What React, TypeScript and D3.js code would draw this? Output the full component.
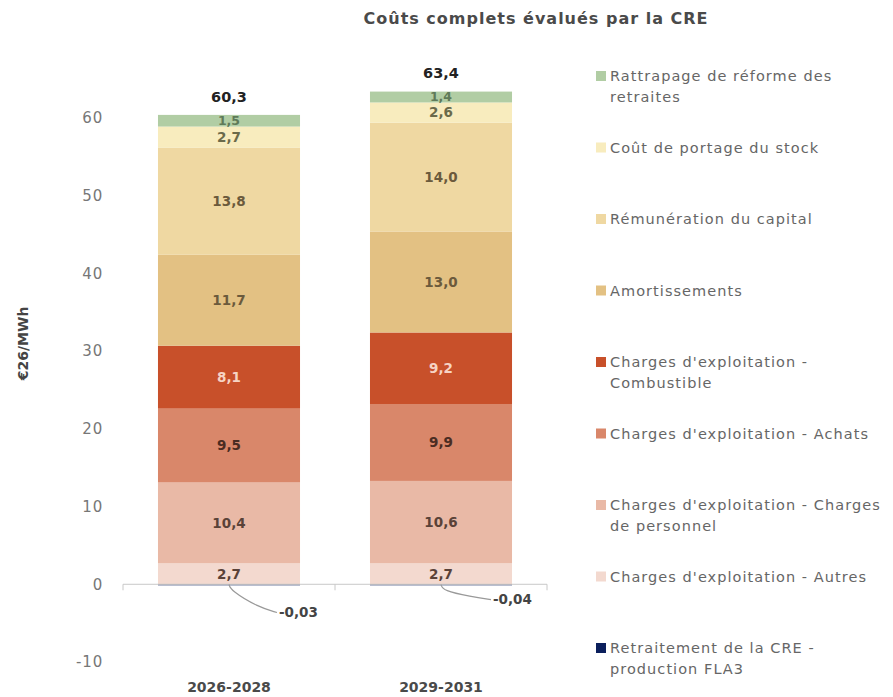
import React, { useRef, useEffect } from 'react';
import * as d3 from 'd3';

const periods = ['2026-2028', '2029-2031'];

const seriesNames = [
  'Retraitement de la CRE - production FLA3',
  "Charges d'exploitation - Autres",
  "Charges d'exploitation - Charges de personnel",
  "Charges d'exploitation - Achats",
  "Charges d'exploitation - Combustible",
  'Amortissements',
  'Rémunération du capital',
  'Coût de portage du stock',
  'Rattrapage de réforme des retraites',
];

// values per series, one per period
const fla3 = [-0.03, -0.04];
const autres = [2.7, 2.7];
const personnel = [10.4, 10.6];
const achats = [9.5, 9.9];
const combustible = [8.1, 9.2];
const amortissements = [11.7, 13.0];
const remuneration = [13.8, 14.0];
const portage = [2.7, 2.6];
const rattrapage = [1.5, 1.4];
const totals = [60.3, 63.4];

const seriesValues = [fla3, autres, personnel, achats, combustible, amortissements, remuneration, portage, rattrapage];

const colors = ['#0b1f5c', '#f3d9cf', '#e9b9a6', '#d9876a', '#c8502a', '#e3c183', '#efd8a2', '#f8ecbe', '#b1cda4'];
const labelColors = ['#444', '#5a4238', '#5a4238', '#4a2c22', '#f6d3c4', '#6b5a3c', '#6b5a3c', '#6b6a4a', '#5f7a58'];

const yTicks = [-10, 0, 10, 20, 30, 40, 50, 60];

const legendLines = [
  ['Rattrapage de réforme des', 'retraites'],
  ['Coût de portage du stock'],
  ['Rémunération du capital'],
  ['Amortissements'],
  ["Charges d'exploitation -", 'Combustible'],
  ["Charges d'exploitation - Achats"],
  ["Charges d'exploitation - Charges", 'de personnel'],
  ["Charges d'exploitation - Autres"],
  ['Retraitement de la CRE -', 'production FLA3'],
];
const legendColorIdx = [8, 7, 6, 5, 4, 3, 2, 1, 0];

const fmt = (v: number) => {
  const s = Math.abs(v) < 0.1 ? v.toFixed(2) : v.toFixed(1);
  return s.replace('.', ',');
};

const App = () => {
  const ref = useRef<SVGSVGElement>(null);

  useEffect(() => {
    const width = 893;
    const height = 697;
    const font = "'DejaVu Sans', sans-serif";

    const svg = d3.select(ref.current)
      .attr('width', width)
      .attr('height', height)
      .style('position', 'absolute')
      .style('left', '0px')
      .style('top', '0px')
      .style('font-family', font);
    svg.selectAll('*').remove();

    const x = d3.scaleBand<string>()
      .domain(periods)
      .range([123, 547])
      .paddingInner(0.33)
      .paddingOuter(0.165);

    const y = d3.scaleLinear().domain([-10, 60]).range([662, 118]);

    // title
    svg.append('text')
      .attr('x', 536).attr('y', 24)
      .attr('text-anchor', 'middle')
      .attr('font-size', 16)
      .attr('font-weight', 700)
      .attr('letter-spacing', 1)
      .attr('fill', '#4a4a4a')
      .text('Coûts complets évalués par la CRE');

    // y tick labels
    svg.append('g')
      .selectAll('text')
      .data(yTicks)
      .join('text')
      .attr('x', 103)
      .attr('y', d => y(d))
      .attr('dy', '0.35em')
      .attr('text-anchor', 'end')
      .attr('font-size', 15)
      .attr('letter-spacing', 0.8)
      .attr('fill', '#777')
      .text(d => d);

    // y title
    svg.append('text')
      .attr('transform', `translate(23,${y(31)}) rotate(-90)`)
      .attr('text-anchor', 'middle')
      .attr('dy', '0.35em')
      .attr('font-size', 14)
      .attr('font-weight', 700)
      .attr('fill', '#444')
      .text('€26/MWh');

    // stacked bars
    const stackG = svg.append('g');
    periods.forEach((p, pi) => {
      let pos = 0;
      let neg = 0;
      seriesValues.forEach((vals, si) => {
        const v = vals[pi];
        let y0: number, y1: number;
        if (v >= 0) { y0 = pos; y1 = pos + v; pos = y1; }
        else { y0 = neg + v; y1 = neg; neg = y0; }
        const bx = x(p)!;
        stackG.append('rect')
          .attr('x', bx)
          .attr('width', x.bandwidth())
          .attr('y', y(y1))
          .attr('height', Math.max(1, y(y0) - y(y1)))
          .attr('fill', colors[si]);
        if (v > 0) {
          stackG.append('text')
            .attr('x', bx + x.bandwidth() / 2)
            .attr('y', y((y0 + y1) / 2))
            .attr('dy', '0.35em')
            .attr('text-anchor', 'middle')
            .attr('font-size', v < 2 ? 12.5 : 13.5)
            .attr('font-weight', 600)
            .attr('fill', labelColors[si])
            .text(fmt(v));
        }
      });
    });

    // x axis line with ticks at band edges
    const axisG = svg.append('g').attr('transform', `translate(0,${y(0)})`);
    const [r0, r1] = x.range();
    const edges = [r0, (r0 + r1) / 2, r1];
    axisG.append('line')
      .attr('x1', r0).attr('x2', r1)
      .attr('stroke', '#c8c8c8').attr('stroke-width', 1);
    axisG.selectAll('line.tick')
      .data(edges)
      .join('line')
      .attr('class', 'tick')
      .attr('x1', d => d).attr('x2', d => d)
      .attr('y1', 0).attr('y2', 6)
      .attr('stroke', '#c8c8c8');

    // x labels
    svg.append('g')
      .selectAll('text')
      .data(periods)
      .join('text')
      .attr('x', d => x(d)! + x.bandwidth() / 2)
      .attr('y', 692)
      .attr('text-anchor', 'middle')
      .attr('font-size', 14)
      .attr('font-weight', 700)
      .attr('fill', '#4a4a4a')
      .text(d => d);

    // totals
    svg.append('g')
      .selectAll('text')
      .data(periods)
      .join('text')
      .attr('x', d => x(d)! + x.bandwidth() / 2)
      .attr('y', (d, i) => y(totals[i]) - 14)
      .attr('text-anchor', 'middle')
      .attr('font-size', 14.5)
      .attr('font-weight', 700)
      .attr('fill', '#222')
      .text((d, i) => fmt(totals[i]));

    // FLA3 leader lines
    const leaderOffsets = [[48, 28], [50, 15]];
    const line = d3.line().curve(d3.curveBasis);
    periods.forEach((p, pi) => {
      const cx = x(p)! + x.bandwidth() / 2;
      const cy = y(fla3[pi]);
      const [dx, dy] = leaderOffsets[pi];
      svg.append('path')
        .attr('d', line([[cx, cy], [cx + 2, cy + 6], [cx + dx * 0.6, cy + dy * 0.8], [cx + dx, cy + dy]]))
        .attr('fill', 'none')
        .attr('stroke', '#999')
        .attr('stroke-width', 1.2);
      svg.append('text')
        .attr('x', cx + dx + 2)
        .attr('y', cy + dy)
        .attr('dy', '0.35em')
        .attr('font-size', 13.5)
        .attr('font-weight', 600)
        .attr('fill', '#444')
        .text(fmt(fla3[pi]));
    });

    // legend
    const legend = svg.append('g').attr('transform', 'translate(596,76)');
    const item = legend.selectAll('g')
      .data(legendLines)
      .join('g')
      .attr('transform', (d, i) => `translate(0,${i * 71.5})`);
    item.append('rect')
      .attr('x', 0).attr('y', -5)
      .attr('width', 10).attr('height', 10)
      .attr('fill', (d, i) => colors[legendColorIdx[i]]);
    item.each(function (d) {
      const g = d3.select(this);
      d.forEach((t, li) => {
        g.append('text')
          .attr('x', 14)
          .attr('y', li * 21)
          .attr('dy', '0.35em')
          .attr('font-size', 14.5)
          .attr('letter-spacing', 1.05)
          .attr('fill', '#666')
          .text(t);
      });
    });
  }, []);

  return <svg ref={ref}></svg>;
};

export default App;
